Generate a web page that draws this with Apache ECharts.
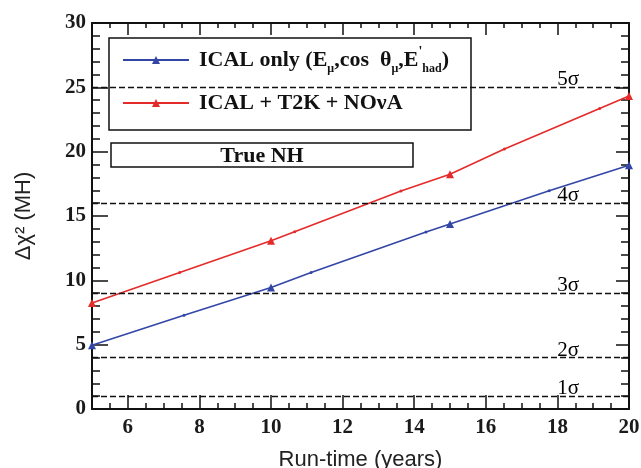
<!DOCTYPE html>
<html>
<head>
<meta charset="utf-8">
<script src="https://cdn.jsdelivr.net/npm/echarts@6/dist/echarts.min.js"></script>
<style>
  html, body { margin: 0; padding: 0; background: #fff; }
  #chart { width: 641px; height: 468px; }
</style>
</head>
<body>
<div id="chart"></div>
<script>
// values
const blueX = [5, 7.57, 10, 11.12, 14.33, 15, 17.77, 20];
const blueY = [4.96, 7.29, 9.45, 10.61, 13.75, 14.37, 16.96, 18.94];
const redX = [5, 7.45, 10, 10.66, 13.63, 15, 16.52, 19.18, 20];
const redY = [8.23, 10.61, 13.07, 13.77, 16.94, 18.24, 20.21, 23.35, 24.33];
const triangleAt = [5, 10, 15, 20];
const sigmaLevels = [1, 4, 9, 16, 25];
const sigmaLabels = ['1σ', '2σ', '3σ', '4σ', '5σ'];
const xMajorTicks = [6, 8, 10, 12, 14, 16, 18, 20];

const blueName = 'ICAL only';
const redName = 'ICAL + T2K + NOνA';
const serif = "'Liberation Serif', 'Times New Roman', serif";
const sans = "'Liberation Sans', Arial, sans-serif";

function points(xs, ys) {
  return xs.map((x, i) => {
    if (triangleAt.indexOf(x) >= 0) return { value: [x, ys[i]] };
    return { value: [x, ys[i]], symbol: 'circle', symbolSize: 3 };
  });
}

const chart = echarts.init(document.getElementById('chart'));

const tickLabel = { fontFamily: serif, fontSize: 21, fontWeight: 'bold', color: '#1a1a1a' };

chart.setOption({
  animation: false,
  backgroundColor: '#fff',
  grid: { left: 92, right: 12, top: 23, bottom: 59, containLabel: false, outerBoundsMode: 'none' },
  legend: {
    data: [blueName, redName],
    orient: 'vertical',
    left: 109,
    top: 38,
    padding: [7, 0, 0, 13],
    itemWidth: 66,
    itemHeight: 10,
    itemGap: 17,
    selectedMode: false,
    z: 5,
    formatter: function (name) {
      if (name === blueName) {
        return '{t|ICAL only (E}{s|μ}{t|,cos  θ}{s|μ}{t|,E}{p|\'}{s|had}{t|)}';
      }
      return '{t|ICAL + T2K + NOνA}';
    },
    textStyle: {
      padding: [0, 0, 0, 5],
      rich: {
        t: { fontFamily: serif, fontSize: 22, fontWeight: 'bold', color: '#111', lineHeight: 30, verticalAlign: 'middle' },
        s: { fontFamily: serif, fontSize: 12, fontWeight: 'bold', color: '#111', lineHeight: 12, verticalAlign: 'bottom' },
        p: { fontFamily: serif, fontSize: 14, fontWeight: 'bold', color: '#111', lineHeight: 14, verticalAlign: 'top' }
      }
    }
  },
  graphic: [
    {
      type: 'rect', z: 3,
      shape: { x: 109, y: 38, width: 362, height: 92 },
      style: { fill: '#fff', stroke: '#111', lineWidth: 1.5 }
    },
    {
      type: 'rect', z: 3,
      shape: { x: 111, y: 143, width: 302, height: 24 },
      style: { fill: '#fff', stroke: '#111', lineWidth: 1.5 }
    },
    {
      type: 'text', z: 4, x: 262, y: 156,
      style: { text: 'True NH', fontFamily: serif, fontSize: 22, fontWeight: 'bold', fill: '#111', align: 'center', verticalAlign: 'middle' }
    }
  ],
  xAxis: [
    {
      type: 'value', position: 'bottom', min: 5, max: 20, interval: 1,
      name: 'Run-time (years)', nameLocation: 'middle', nameGap: 40,
      nameTextStyle: { fontFamily: sans, fontSize: 22, color: '#222' },
      axisLine: { show: true, lineStyle: { color: '#111', width: 2 } },
      axisTick: { show: true, inside: true, length: 14, customValues: xMajorTicks, lineStyle: { color: '#111', width: 1.5 } },
      axisLabel: Object.assign({ margin: 8, customValues: xMajorTicks }, tickLabel),
      splitLine: { show: false }
    },
    {
      type: 'value', position: 'bottom', min: 5, max: 20, interval: 0.5,
      axisLine: { show: false },
      axisTick: { show: true, inside: true, length: 6, lineStyle: { color: '#111', width: 1.5 } },
      axisLabel: { show: false },
      splitLine: { show: false }
    },
    {
      type: 'value', position: 'top', min: 5, max: 20, interval: 1,
      axisLine: { show: true, lineStyle: { color: '#111', width: 2 } },
      axisTick: { show: true, inside: true, length: 12, customValues: xMajorTicks, lineStyle: { color: '#111', width: 1.5 } },
      axisLabel: { show: false },
      splitLine: { show: false }
    },
    {
      type: 'value', position: 'top', min: 5, max: 20, interval: 0.5,
      axisLine: { show: false },
      axisTick: { show: true, inside: true, length: 5, lineStyle: { color: '#111', width: 1.5 } },
      axisLabel: { show: false },
      splitLine: { show: false }
    }
  ],
  yAxis: [
    {
      type: 'value', position: 'left', min: 0, max: 30, interval: 5,
      name: 'Δχ² (MH)', nameLocation: 'middle', nameGap: 57,
      nameTextStyle: { fontFamily: sans, fontSize: 22, color: '#222' },
      axisLine: { show: true, lineStyle: { color: '#111', width: 2 } },
      axisTick: { show: true, inside: true, length: 16, lineStyle: { color: '#111', width: 1.5 } },
      minorTick: { show: true, splitNumber: 5, length: 8, lineStyle: { color: '#111', width: 1.5 } },
      axisLabel: Object.assign({ margin: 6 }, tickLabel),
      splitLine: { show: false }
    },
    {
      type: 'value', position: 'right', min: 0, max: 30, interval: 5,
      axisLine: { show: true, lineStyle: { color: '#111', width: 2 } },
      axisTick: { show: true, inside: true, length: 13, lineStyle: { color: '#111', width: 1.5 } },
      minorTick: { show: true, splitNumber: 5, length: 8, lineStyle: { color: '#111', width: 1.5 } },
      axisLabel: { show: false },
      splitLine: { show: false }
    }
  ],
  series: [
    {
      name: blueName,
      type: 'line',
      data: points(blueX, blueY),
      symbol: 'triangle',
      symbolSize: 8,
      showAllSymbol: true,
      clip: false,
      color: '#3346a6',
      lineStyle: { color: '#3346a6', width: 1.6 },
      itemStyle: { color: '#3346a6' },
      markLine: {
        silent: true,
        symbol: 'none',
        label: { show: false },
        lineStyle: { color: '#111', width: 1.3, type: [6, 3] },
        data: sigmaLevels.map(v => ({ yAxis: v }))
      }
    },
    {
      name: redName,
      type: 'line',
      data: points(redX, redY),
      symbol: 'triangle',
      symbolSize: 8,
      showAllSymbol: true,
      clip: false,
      color: '#e52a2a',
      lineStyle: { color: '#e52a2a', width: 1.6 },
      itemStyle: { color: '#e52a2a' }
    },
    {
      type: 'scatter',
      silent: true,
      symbolSize: 0,
      itemStyle: { opacity: 1 },
      data: sigmaLevels.map((v, i) => ({ value: [18.3, v], name: sigmaLabels[i] })),
      label: {
        show: true,
        position: 'top',
        distance: -3,
        formatter: p => p.name,
        fontFamily: serif,
        fontSize: 21,
        color: '#000'
      }
    }
  ]
});
</script>
</body>
</html>
